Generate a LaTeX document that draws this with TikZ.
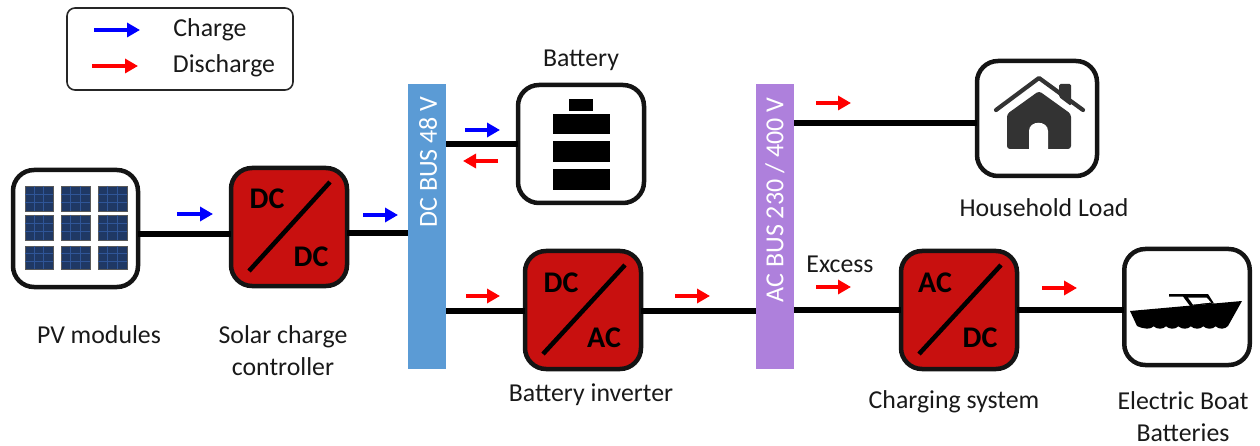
\documentclass[tikz,border=0pt]{standalone}
\usepackage{fontspec}
\setmainfont{Carlito}
\usetikzlibrary{arrows.meta}
\definecolor{convred}{HTML}{C8100F}
\definecolor{dcblue}{HTML}{5B9BD5}
\definecolor{acpurple}{HTML}{AE80DC}
\definecolor{panelblue}{HTML}{1F3864}
\definecolor{panelgrid}{HTML}{2F5597}
\definecolor{housedark}{HTML}{333333}
\tikzset{
  iconbox/.style={draw=black!92,line width=4.5pt,rounded corners=21pt,fill=white,outer sep=0pt,inner sep=0pt},
  convbox/.style={draw=black!92,line width=4.5pt,rounded corners=21pt,fill=convred,outer sep=0pt,inner sep=0pt,minimum width=116pt,minimum height=118pt},
  busbar/.style={fill=#1,outer sep=0pt,inner sep=0pt,minimum width=38pt,minimum height=285pt},
  wire/.style={line width=5.2pt,black},
  diag/.style={line width=4.5pt,black},
  flow/.style={line width=4.4pt,draw=#1,-{Triangle[length=13pt,width=14pt,fill=#1]}},
  lbl/.style={font=\fontsize{25.8}{32}\selectfont,align=center,inner sep=0pt,text=black!90},
  conv/.style={font=\fontsize{30}{32}\selectfont\bfseries,inner sep=0pt,text=black},
  bustext/.style={font=\fontsize{26}{28}\selectfont,inner sep=0pt,rotate=90,text=white},
}
\newcommand{\solarcell}[4]{%
  \fill[panelblue,draw=black!65,line width=.7pt] (#1,#2) rectangle (#3,#4);
  \draw[panelgrid,line width=.5pt]
    ({#1+(#3-#1)/3},#2) -- ({#1+(#3-#1)/3},#4)
    ({#1+2*(#3-#1)/3},#2) -- ({#1+2*(#3-#1)/3},#4)
    (#1,{#2+(#4-#2)/3}) -- (#3,{#2+(#4-#2)/3})
    (#1,{#2+2*(#4-#2)/3}) -- (#3,{#2+2*(#4-#2)/3});
}
\newcommand{\flowarrow}[5]{%
  \coordinate (#1s) at (#2,#4);
  \coordinate (#1e) at (#3,#4);
  \draw[flow=#5] (#1s) -- (#1e);
}
\begin{document}
\begin{tikzpicture}[x=1pt,y=-1pt]
\useasboundingbox (0,0) rectangle (1260,446);

% legend
\node[draw=black!85,line width=1.6pt,rounded corners=8pt,minimum width=226pt,minimum height=82pt,inner sep=0pt,outer sep=0pt] (legend) at (180,49) {};
\flowarrow{lc}{94}{140}{30}{blue}
\flowarrow{ld}{92}{138}{66}{red}
\node[lbl] (tcharge) at (210,30) {Charge};
\node[lbl] (tdischarge) at (224,66) {Discharge};

% buses
\node[busbar=dcblue] (dcbus) at (427,226.5) {};
\node[busbar=acpurple] (acbus) at (775,226.5) {};
\node[bustext] (dcbustext) at (428,162) {DC BUS 48 V};
\node[bustext] (acbustext) at (775,200) {AC BUS 230 / 400 V};

% boxes
\node[iconbox,minimum width=125pt,minimum height=117pt] (pv) at (75.5,228.5) {};
\node[convbox] (cc) at (289,227) {};
\node[iconbox,minimum width=126pt,minimum height=118pt] (bat) at (581,144) {};
\node[convbox] (inv) at (583,310) {};
\node[convbox] (chg) at (959,310) {};
\node[iconbox,minimum width=120pt,minimum height=115pt] (house) at (1037,118.5) {};
\node[iconbox,minimum width=125.5pt,minimum height=116pt] (boat) at (1187,307) {};

% wires
\draw[wire] (pv.east |- 0,234) -- (cc.west |- 0,234);
\draw[wire] (cc.east |- 0,233) -- (dcbus.west |- 0,233);
\draw[wire] (dcbus.east |- 0,144) -- (bat.west |- 0,144);
\draw[wire] (dcbus.east |- 0,311) -- (inv.west |- 0,311);
\draw[wire] (inv.east |- 0,311) -- (acbus.west |- 0,311);
\draw[wire] (acbus.east |- 0,123) -- (house.west |- 0,123);
\draw[wire] (acbus.east |- 0,310) -- (chg.west |- 0,310);
\draw[wire] (chg.east |- 0,310) -- (boat.west |- 0,310);

% converter faces
\draw[diag] (330,182) -- (249,271);
\node[conv] at (267,199) {DC};
\node[conv] at (311,257) {DC};
\draw[diag] (625,265) -- (543,354);
\node[conv] at (561,283) {DC};
\node[conv] at (604,338) {AC};
\draw[diag] (1001,265) -- (919,354);
\node[conv] at (935,283) {AC};
\node[conv] at (980,338) {DC};

% solar panels
\foreach \xa/\xb in {25/53,61/90,98/127}
  \foreach \ya/\yb in {186/211,215/240,246/269}
    {\solarcell{\xa}{\ya}{\xb}{\yb}}

% battery icon
\fill[black] (569,99) rectangle (593,111);
\fill[black] (553,114) rectangle (610,134);
\fill[black] (553,141) rectangle (610,162);
\fill[black] (553,169) rectangle (610,190);

% house icon
\fill[housedark,rounded corners=1.5pt] (1059,84) -- (1071,84) -- (1071,106) -- (1059,97) -- cycle;
\draw[housedark,line width=4.2pt,line cap=round,line join=round] (996,110) -- (1039,78) -- (1083,110);
\fill[housedark,rounded corners=3pt]
  (1039,91) -- (1071,114) -- (1071,149) -- (1007,149) -- (1007,114) -- cycle;
\fill[white] (1029,150) -- (1029,131) .. controls (1029,120) and (1048,120) .. (1048,131) -- (1048,150) -- cycle;

% boat icon
\fill[black] (1130,311) -- (1242,301) -- (1228,326)
  .. controls (1225,329.5) and (1219,329.5) .. (1215.6,326.3)
  .. controls (1212.6,329.5) and (1206.6,329.5) .. (1203.2,326.3)
  .. controls (1200.2,329.5) and (1194.2,329.5) .. (1190.8,326.3)
  .. controls (1187.8,329.5) and (1181.8,329.5) .. (1178.4,326.3)
  .. controls (1175.4,329.5) and (1169.4,329.5) .. (1166,326.3)
  .. controls (1163,329.5) and (1157,329.5) .. (1153.6,326.3)
  .. controls (1150.6,329.5) and (1144.6,329.5) .. (1137,326)
  -- cycle;
\fill[black] (1169,294) -- (1208,294) -- (1214,303.5) -- (1190,306) -- (1183,296.5) -- (1169,296.5) -- cycle;
\fill[white] (1188,297.5) -- (1206.5,297.5) -- (1211,302.5) -- (1193,304.6) -- cycle;

% flow arrows
\flowarrow{a1}{177}{213}{214}{blue}
\flowarrow{a2}{363}{398}{215}{blue}
\flowarrow{a3}{465}{500}{130}{blue}
\flowarrow{a4}{498}{463}{161}{red}
\flowarrow{a5}{466}{500}{296}{red}
\flowarrow{a6}{675}{710}{296}{red}
\flowarrow{a7}{816}{851}{103}{red}
\flowarrow{a8}{816}{851}{287}{red}
\flowarrow{a9}{1042}{1077}{288}{red}

% labels
\node[lbl] (tbat) at (581,60) {Battery};
\node[lbl] (thouse) at (1044,208) {Household Load};
\node[lbl] (tpv) at (99,335) {PV modules};
\node[lbl] (tcc) at (283,351) {Solar charge\\controller};
\node[lbl] (tinv) at (591,395) {Battery inverter};
\node[lbl] (tchg) at (954,402) {Charging system};
\node[lbl] (tboat) at (1183,417) {Electric Boat\\Batteries};
\node[lbl] (texc) at (840,264) {Excess};
\end{tikzpicture}
\end{document}
